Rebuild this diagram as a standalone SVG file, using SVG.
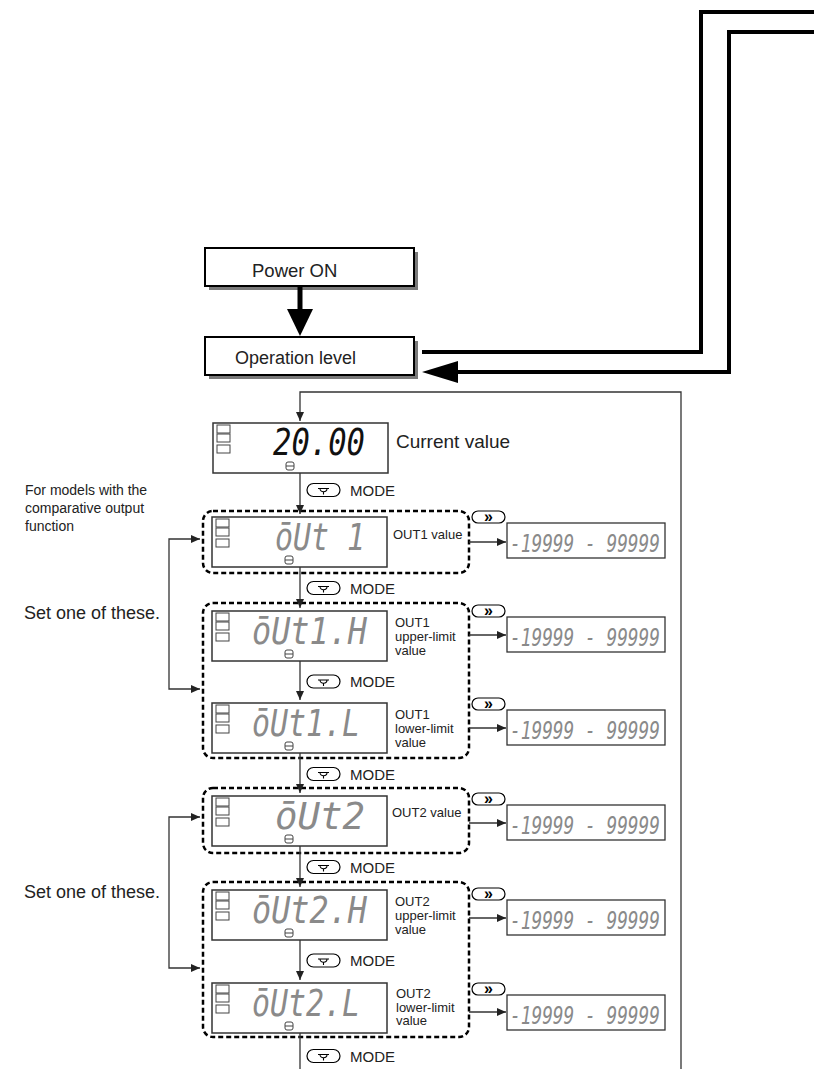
<svg xmlns="http://www.w3.org/2000/svg" xmlns:xlink="http://www.w3.org/1999/xlink" width="814" height="1069" viewBox="0 0 814 1069">
<style>
.box{fill:#fff;stroke:#000;stroke-width:2}
.shadow{fill:#7a7a7a}
.disp{fill:#fff;stroke:#333;stroke-width:1.5}
.ind{fill:#fff;stroke:#444;stroke-width:1}
.dash{fill:none;stroke:#000;stroke-width:2.5;stroke-dasharray:5 3}
.rng{fill:#fff;stroke:#333;stroke-width:1.3}
.pill{fill:#fff;stroke:#000;stroke-width:1.2}
.seg{font-family:"DejaVu Sans Mono",monospace;font-style:oblique;fill:#8a8a8a}
.lbl{font-family:"Liberation Sans",Arial,sans-serif;fill:#222}
.sh{font-family:"Liberation Sans",Arial,sans-serif;fill:#000;font-weight:bold;font-size:16px}
.thin{fill:none;stroke:#333;stroke-width:1.3}
.thick{fill:none;stroke:#000;stroke-width:4}
.ico{fill:none;stroke:#000;stroke-width:1.1}
</style>
<defs>
<marker id="ah" markerUnits="userSpaceOnUse" markerWidth="9" markerHeight="8" refX="9" refY="4" orient="auto">
<path d="M0,0 L9,4 L0,8 z" fill="#222"/>
</marker>
<g id="frame">
<rect class="disp" x="0" y="0" width="175" height="50"/>
<rect class="ind" x="4" y="2" width="13" height="8"/>
<rect class="ind" x="4" y="11" width="13" height="8"/>
<rect class="ind" x="4" y="22" width="13" height="8"/>
<rect class="ind" x="73" y="39" width="8" height="8" rx="2"/>
<line class="ind" x1="73" y1="43" x2="81" y2="43"/>
</g>
<g id="modepill">
<rect class="pill" x="0" y="-6.5" width="33" height="13" rx="6.5"/>
<path class="ico" d="M11,-1.5 h11 M13,-1.5 a3.5,3.2 0 0,0 7,0 M16.5,1.5 v3"/>
</g>
<g id="shiftpill">
<rect class="pill" x="0" y="0" width="33" height="12" rx="6"/>
</g>
</defs>

<g id="power-on">
<rect class="shadow" x="209" y="252" width="209" height="38"/>
<rect class="box" x="205" y="248" width="209" height="38"/>
<text class="lbl" x="252" y="277" font-size="18.5">Power ON</text>
</g>

<g id="operation-level">
<rect class="shadow" x="209" y="341" width="209" height="38"/>
<rect class="box" x="205" y="337" width="209" height="38"/>
<text class="lbl" x="235" y="364" font-size="18">Operation level</text>
</g>

<g id="current-value">
<use xlink:href="#frame" x="213" y="423"/>
<text class="seg" x="273" y="455" font-size="37" textLength="92" lengthAdjust="spacingAndGlyphs" style="fill:#111">20.00</text>
<text class="lbl" x="396" y="448" font-size="19">Current value</text>
</g>

<g id="note">
<text class="lbl" x="25" y="495" font-size="14">For models with the</text>
<text class="lbl" x="25" y="513" font-size="14">comparative output</text>
<text class="lbl" x="25" y="531" font-size="14">function</text>
</g>

<g id="set-one-1">
<text class="lbl" x="160" y="619" font-size="18" text-anchor="end">Set one of these.</text>
</g>
<g id="set-one-2">
<text class="lbl" x="160" y="898" font-size="18" text-anchor="end">Set one of these.</text>
</g>

<g id="group-out1">
<rect class="dash" x="203" y="511" width="266" height="62" rx="10"/>
</g>
<g id="group-out1hl">
<rect class="dash" x="203" y="603" width="266" height="155" rx="10"/>
</g>
<g id="group-out2">
<rect class="dash" x="203" y="788" width="266" height="65" rx="10"/>
</g>
<g id="group-out2hl">
<rect class="dash" x="203" y="882" width="266" height="155" rx="10"/>
</g>

<g id="out1">
<use xlink:href="#frame" x="212" y="517"/>
<text class="seg" x="275" y="550" font-size="37" textLength="90" lengthAdjust="spacingAndGlyphs">ōUt 1</text>
<text class="lbl" x="393" y="539" font-size="13">OUT1 value</text>
</g>

<g id="out1h">
<use xlink:href="#frame" x="212" y="611"/>
<text class="seg" x="252" y="644" font-size="37" textLength="115" lengthAdjust="spacingAndGlyphs">ōUt1.H</text>
<text class="lbl" x="395" y="627" font-size="13">OUT1</text>
<text class="lbl" x="395" y="641" font-size="13">upper-limit</text>
<text class="lbl" x="395" y="655" font-size="13">value</text>
</g>

<g id="out1l">
<use xlink:href="#frame" x="212" y="703"/>
<text class="seg" x="252" y="736" font-size="37" textLength="108" lengthAdjust="spacingAndGlyphs">ōUt1.L</text>
<text class="lbl" x="395" y="719" font-size="13">OUT1</text>
<text class="lbl" x="395" y="733" font-size="13">lower-limit</text>
<text class="lbl" x="395" y="747" font-size="13">value</text>
</g>

<g id="out2">
<use xlink:href="#frame" x="212" y="796"/>
<text class="seg" x="275" y="829" font-size="37" textLength="90" lengthAdjust="spacingAndGlyphs">ōUt2</text>
<text class="lbl" x="392" y="817" font-size="13">OUT2 value</text>
</g>

<g id="out2h">
<use xlink:href="#frame" x="212" y="890"/>
<text class="seg" x="252" y="923" font-size="37" textLength="115" lengthAdjust="spacingAndGlyphs">ōUt2.H</text>
<text class="lbl" x="395" y="906" font-size="13">OUT2</text>
<text class="lbl" x="395" y="920" font-size="13">upper-limit</text>
<text class="lbl" x="395" y="934" font-size="13">value</text>
</g>

<g id="out2l">
<use xlink:href="#frame" x="212" y="983"/>
<text class="seg" x="252" y="1016" font-size="37" textLength="108" lengthAdjust="spacingAndGlyphs">ōUt2.L</text>
<text class="lbl" x="396" y="998" font-size="13">OUT2</text>
<text class="lbl" x="396" y="1012" font-size="13">lower-limit</text>
<text class="lbl" x="396" y="1025" font-size="13">value</text>
</g>

<g id="range-out1">
<use xlink:href="#shiftpill" x="472" y="511"/>
<text class="sh" x="488.5" y="522" text-anchor="middle">»</text>
<rect class="rng" x="507" y="523" width="158" height="35"/>
<text class="seg" x="510" y="552" font-size="25" textLength="150" lengthAdjust="spacingAndGlyphs">-19999 - 99999</text>
</g>
<g id="range-out1h">
<use xlink:href="#shiftpill" x="472" y="605"/>
<text class="sh" x="488.5" y="616" text-anchor="middle">»</text>
<rect class="rng" x="507" y="617" width="158" height="35"/>
<text class="seg" x="510" y="646" font-size="25" textLength="150" lengthAdjust="spacingAndGlyphs">-19999 - 99999</text>
</g>
<g id="range-out1l">
<use xlink:href="#shiftpill" x="472" y="698"/>
<text class="sh" x="488.5" y="709" text-anchor="middle">»</text>
<rect class="rng" x="507" y="710" width="158" height="35"/>
<text class="seg" x="510" y="739" font-size="25" textLength="150" lengthAdjust="spacingAndGlyphs">-19999 - 99999</text>
</g>
<g id="range-out2">
<use xlink:href="#shiftpill" x="472" y="793"/>
<text class="sh" x="488.5" y="804" text-anchor="middle">»</text>
<rect class="rng" x="507" y="805" width="158" height="35"/>
<text class="seg" x="510" y="834" font-size="25" textLength="150" lengthAdjust="spacingAndGlyphs">-19999 - 99999</text>
</g>
<g id="range-out2h">
<use xlink:href="#shiftpill" x="472" y="888"/>
<text class="sh" x="488.5" y="899" text-anchor="middle">»</text>
<rect class="rng" x="507" y="900" width="158" height="35"/>
<text class="seg" x="510" y="929" font-size="25" textLength="150" lengthAdjust="spacingAndGlyphs">-19999 - 99999</text>
</g>
<g id="range-out2l">
<use xlink:href="#shiftpill" x="472" y="983"/>
<text class="sh" x="488.5" y="994" text-anchor="middle">»</text>
<rect class="rng" x="507" y="995" width="158" height="35"/>
<text class="seg" x="510" y="1024" font-size="25" textLength="150" lengthAdjust="spacingAndGlyphs">-19999 - 99999</text>
</g>

<g id="mode-keys">
<use xlink:href="#modepill" x="307" y="490"/>
<text class="lbl" x="350" y="495.5" font-size="15">MODE</text>
<use xlink:href="#modepill" x="307" y="588"/>
<text class="lbl" x="350" y="593.5" font-size="15">MODE</text>
<use xlink:href="#modepill" x="307" y="681.5"/>
<text class="lbl" x="350" y="687" font-size="15">MODE</text>
<use xlink:href="#modepill" x="307" y="774"/>
<text class="lbl" x="350" y="779.5" font-size="15">MODE</text>
<use xlink:href="#modepill" x="307" y="867"/>
<text class="lbl" x="350" y="872.5" font-size="15">MODE</text>
<use xlink:href="#modepill" x="307" y="960.5"/>
<text class="lbl" x="350" y="966" font-size="15">MODE</text>
<use xlink:href="#modepill" x="307" y="1056"/>
<text class="lbl" x="350" y="1061.5" font-size="15">MODE</text>
</g>

<g id="connectors">
<line x1="300" y1="287" x2="300" y2="311" stroke="#000" stroke-width="5"/>
<polygon points="287,309 313,309 300,336" fill="#000"/>
<path class="thick" d="M814,12 H701 V352 H422" stroke-linejoin="miter"/>
<path class="thick" d="M814,32 H729 V372 H455" stroke-linejoin="miter"/>
<polygon points="422,372 458,361 458,383" fill="#000"/>
<path class="thin" d="M681,1069 V392 H300 V421" marker-end="url(#ah)"/>
<path class="thin" d="M300,473 V514" marker-end="url(#ah)"/>
<path class="thin" d="M300,567 V608" marker-end="url(#ah)"/>
<path class="thin" d="M300,661 V700" marker-end="url(#ah)"/>
<path class="thin" d="M300,753 V793" marker-end="url(#ah)"/>
<path class="thin" d="M300,846 V887" marker-end="url(#ah)"/>
<path class="thin" d="M300,940 V980" marker-end="url(#ah)"/>
<path class="thin" d="M300,1033 V1069"/>
<path class="thin" d="M469,542 H506" marker-end="url(#ah)"/>
<path class="thin" d="M469,635 H506" marker-end="url(#ah)"/>
<path class="thin" d="M469,728 H506" marker-end="url(#ah)"/>
<path class="thin" d="M469,823 H506" marker-end="url(#ah)"/>
<path class="thin" d="M469,918 H506" marker-end="url(#ah)"/>
<path class="thin" d="M469,1012 H506" marker-end="url(#ah)"/>
<path class="thin" d="M169,614 V539 H200" marker-end="url(#ah)"/>
<path class="thin" d="M169,614 V689 H200" marker-end="url(#ah)"/>
<path class="thin" d="M169,892 V817 H200" marker-end="url(#ah)"/>
<path class="thin" d="M169,892 V968 H200" marker-end="url(#ah)"/>
</g>
</svg>
